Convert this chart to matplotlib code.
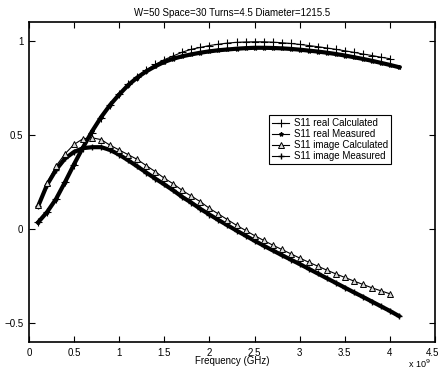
import matplotlib
matplotlib.use("Agg")
import matplotlib.pyplot as plt
import matplotlib.transforms as mtransforms
import numpy as np

plt.rcParams['font.family'] = ['Liberation Sans', 'DejaVu Sans']

freq_calc = [round(0.1 * i, 1) for i in range(1, 41)]   # 0.1 .. 4.0 GHz
freq_meas = [round(0.1 * i, 1) for i in range(1, 42)]   # 0.1 .. 4.1 GHz

real_calc = [0.04, 0.09, 0.16, 0.25, 0.34, 0.43, 0.51, 0.59, 0.66, 0.72,
             0.77, 0.81, 0.845, 0.875, 0.90, 0.92, 0.94, 0.955, 0.965, 0.975,
             0.982, 0.988, 0.992, 0.994, 0.995, 0.995, 0.993, 0.99, 0.986, 0.981,
             0.975, 0.969, 0.962, 0.955, 0.947, 0.939, 0.93, 0.922, 0.913, 0.905]

real_meas = [0.035, 0.09, 0.16, 0.25, 0.345, 0.435, 0.52, 0.595, 0.66, 0.715,
             0.765, 0.805, 0.838, 0.865, 0.888, 0.905, 0.918, 0.928, 0.937, 0.944,
             0.95, 0.954, 0.958, 0.961, 0.963, 0.963, 0.962, 0.96, 0.957, 0.953,
             0.948, 0.943, 0.937, 0.93, 0.922, 0.913, 0.904, 0.894, 0.883, 0.872, 0.86]

imag_calc = [0.13, 0.245, 0.335, 0.40, 0.45, 0.48, 0.485, 0.475, 0.445, 0.42,
             0.395, 0.37, 0.337, 0.305, 0.27, 0.24, 0.205, 0.175, 0.145, 0.11,
             0.08, 0.05, 0.02, -0.007, -0.035, -0.06, -0.085, -0.108, -0.131, -0.154,
             -0.176, -0.197, -0.218, -0.238, -0.257, -0.276, -0.294, -0.312, -0.328, -0.344]

imag_meas = [0.12, 0.235, 0.315, 0.375, 0.41, 0.43, 0.435, 0.435, 0.42, 0.395,
             0.365, 0.333, 0.30, 0.268, 0.237, 0.205, 0.17, 0.14, 0.107, 0.077,
             0.048, 0.02, -0.008, -0.035, -0.062, -0.088, -0.113, -0.138, -0.162, -0.186,
             -0.211, -0.236, -0.261, -0.286, -0.311, -0.336, -0.36, -0.385, -0.41, -0.435, -0.462]

x_ticks = [0, 0.5, 1, 1.5, 2, 2.5, 3, 3.5, 4, 4.5]
x_ticklabels = ['0', '0.5', '1', '1.5', '2', '2.5', '3', '3.5', '4', '4.5']
y_ticks = [-0.5, 0, 0.5, 1]
y_ticklabels = ['\u22120.5', '0', '0.5', '1']

fig = plt.figure(figsize=(4.4, 3.69), dpi=100)
ax = fig.add_axes([29 / 440, 27 / 369, 406 / 440, 320 / 369])

ax.plot(freq_calc, real_calc, color='black', lw=0.8, marker='+', ms=6, mew=0.8,
        label='S11 real Calculated', zorder=3)
ax.plot(freq_meas, real_meas, color='black', lw=3.0, marker='*', ms=3,
        label='S11 real Measured', zorder=2)
ax.plot(freq_calc, imag_calc, color='black', lw=0.8, marker='^', ms=5, mew=0.7,
        mfc='#d8d8d8', label='S11 image Calculated', zorder=3)
ax.plot(freq_meas, imag_meas, color='black', lw=3.0, marker='+', ms=5,
        label='S11 image Measured', zorder=2)

ax.set_xlim(0, 4.5)
ax.set_ylim(-0.6, 1.1)
ax.set_xticks(x_ticks)
ax.set_xticklabels(x_ticklabels)
ax.set_yticks(y_ticks)
ax.set_yticklabels(y_ticklabels)
ax.tick_params(direction='in', top=True, right=True, labelsize=7, length=4, width=0.8, pad=4)
for s in ax.spines.values():
    s.set_linewidth(1.2)

# keep the last x tick label inside the figure
last = ax.get_xticklabels()[-1]
last.set_transform(last.get_transform() +
                   mtransforms.ScaledTranslation(-3 / 100, 0, fig.dpi_scale_trans))

ax.set_title('W=50 Space=30 Turns=4.5 Diameter=1215.5', fontsize=7, pad=4)
ax.set_xlabel('Frequency (GHz)', fontsize=7, labelpad=-1)
ax.text(0.99, -0.068, r'x 10$^9$', transform=ax.transAxes, fontsize=6.5,
        ha='right', va='center')

leg = ax.legend(loc='upper left', bbox_to_anchor=(0.591, 0.708), fontsize=7,
                fancybox=False, edgecolor='black', framealpha=1, numpoints=1,
                handlelength=1.8, handletextpad=0.5, labelspacing=0.1,
                borderpad=0.3, borderaxespad=0)
leg.get_frame().set_linewidth(0.8)
for h in leg.legend_handles:
    h.set_linewidth(0.8)

fig.savefig('out.png', dpi=100)
